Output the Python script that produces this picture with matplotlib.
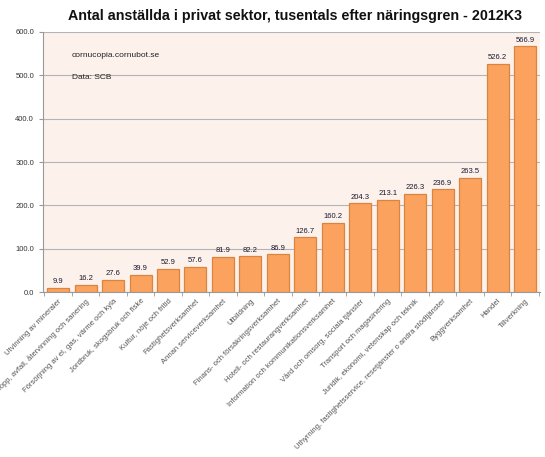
import matplotlib
matplotlib.use("Agg")
import matplotlib.pyplot as plt
import numpy as np

plt.rcParams['font.family'] = ['Liberation Sans', 'DejaVu Sans']

categories = [
    "Utvinning av mineraler",
    "Vattenförsörjning, avlopp, avfall, återvinning och sanering",
    "Försörjning av el, gas, värme och kyla",
    "Jordbruk, skogsbruk och fiske",
    "Kultur, nöje och fritid",
    "Fastighetsverksamhet",
    "Annan serviceverksamhet",
    "Utbildning",
    "Finans- och försäkringsverksamhet",
    "Hotell- och restaurangverksamhet",
    "Information och kommunikationsverksamhet",
    "Vård och omsorg, sociala tjänster",
    "Transport och magasinering",
    "Juridik, ekonomi, vetenskap och teknik",
    "Uthyrning, fastighetsservice, resetjänster o andra stödtjänster",
    "Byggverksamhet",
    "Handel",
    "Tillverkning",
]
values = [9.9, 16.2, 27.6, 39.9, 52.9, 57.6, 81.9, 82.2, 86.9, 126.7,
          160.2, 204.3, 213.1, 226.3, 236.9, 263.5, 526.2, 566.9]
yticks = [0, 100, 200, 300, 400, 500, 600]

fig = plt.figure(figsize=(5.45, 4.57), dpi=100)
ax = fig.add_axes([0.079, 0.361, 0.912, 0.569])
ax.set_facecolor('#fdf1ec')

x = np.arange(len(values))
ax.bar(x, values, width=0.8, color='#fba35e', edgecolor='#d9843f', linewidth=0.9, zorder=3)
for xi, v in zip(x, values):
    ax.text(xi, v + 6, f"{v:.1f}", ha='center', va='bottom', fontsize=5.5, color='#1a1a2e', zorder=4)

ax.set_xlim(-0.55, len(values) - 0.45)
ax.set_ylim(0, 600)
ax.set_yticks(yticks)
ax.set_yticklabels([f"{t:.1f}" for t in yticks], fontsize=5.5, color='#333333')
ax.yaxis.grid(True, color='#b4b4b4', linewidth=0.8, zorder=0)
ax.set_axisbelow(True)

ax.set_xticks(x)
ax.set_xticklabels(categories, rotation=45, ha='right', rotation_mode='anchor',
                   fontsize=5.5, color='#555555')
ax.tick_params(axis='x', length=0, pad=4)
ax.set_xticks(np.arange(-0.5, len(values), 1), minor=True)
ax.tick_params(axis='x', which='minor', length=3, color='#999999')
ax.tick_params(axis='y', length=3, color='#999999')

for s in ['top', 'right']:
    ax.spines[s].set_visible(False)
ax.spines['left'].set_color('#999999')
ax.spines['bottom'].set_color('#999999')

ax.text(0.058, 0.905, "cornucopia.cornubot.se", transform=ax.transAxes, fontsize=6, color='#222222')
ax.text(0.058, 0.82, "Data: SCB", transform=ax.transAxes, fontsize=6, color='#222222')

fig.text(0.542, 0.965, "Antal anställda i privat sektor, tusentals efter näringsgren - 2012K3",
         ha='center', va='center', fontsize=10.3, fontweight='bold', color='#111111')

fig.savefig("out.png", dpi=100, facecolor='white')
